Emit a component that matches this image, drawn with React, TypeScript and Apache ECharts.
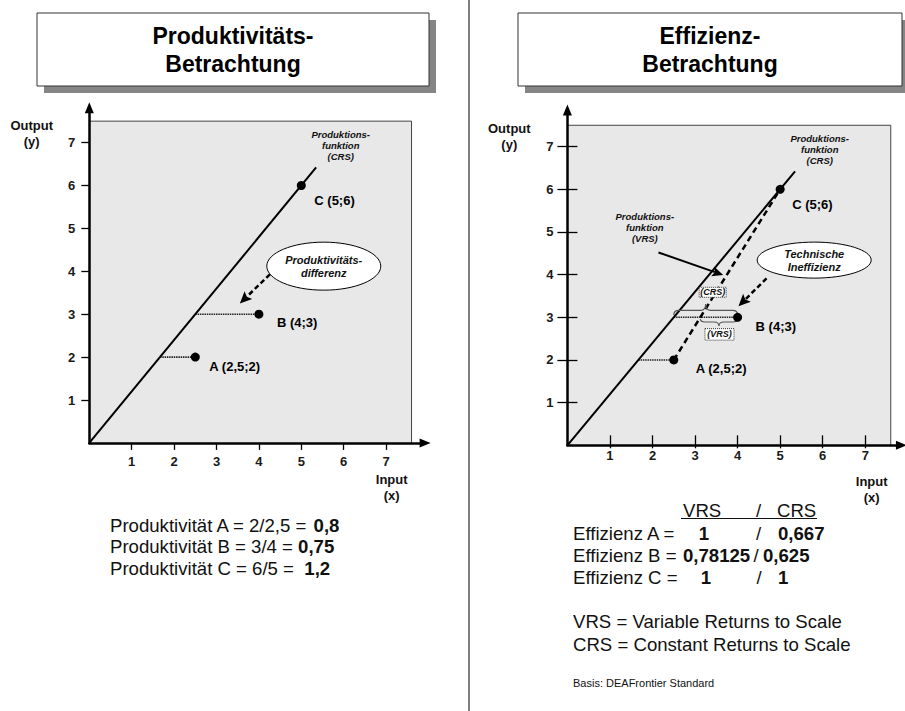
import React, { useEffect, useRef } from 'react';
import * as echarts from 'echarts';

const FONT = '"Liberation Sans", Arial, Helvetica, sans-serif';

// ---------- data ----------
const unitNames = ['A', 'B', 'C'];
const inputValues = [2.5, 4, 5];
const outputValues = [2, 3, 6];
const pointLabels = ['A (2,5;2)', 'B (4;3)', 'C (5;6)'];
const axisTickValues = [1, 2, 3, 4, 5, 6, 7];
const crsFrontierEnd = [5.35, 6.42];
const vrsFrontier = [[2.5, 2], [5, 6]];
const plotAreaMax = [7.6, 7.5];
const productivityFormulas = ['2/2,5 = ', '3/4 = ', '6/5 =  '];
const productivityValues = ['0,8', '0,75', '1,2'];
const efficiencyVRS = ['1', '0,78125', '1'];
const efficiencyCRS = ['0,667', '0,625', '1'];
const frontierLabelCRS = 'Produktions-\nfunktion\n(CRS)';
const frontierLabelVRS = 'Produktions-\nfunktion\n(VRS)';
const ellipseTexts = ['Produktivitäts-\ndifferenz', 'Technische\nIneffizienz'];
const braceTexts = ['(CRS)', '(VRS)'];

// ---------- annotation anchors (data units) ----------
const crsLabelAnchor = [5.93, 6.94];
const vrsLabelAnchor = [1.82, 5.11];
const ellipseAnchors = [[5.53, 4.12], [5.8, 4.34]];
const dashedArrows = [
  [4.26, 3.93, 3.55, 3.25],
  [4.68, 3.91, 4.02, 3.26],
];
const vrsArrow = [2.14, 4.52, 3.66, 3.99];

// ---------- layout ----------
const panels = [
  { left: 89.3, originY: 442.9, ux: 42.4, uy: 42.9, xMax: 7.92, yMax: 7.81 },
  { left: 567.4, originY: 445.3, ux: 42.55, uy: 42.67, xMax: 7.85, yMax: 7.86 },
];
const labelOffsets = [
  [[14, 9], [18, 8], [13, 15]],
  [[22, 9], [18, 9], [12, 15]],
];
const ellipseSizes = [[57, 24], [57, 18]];

const crsSlope = Math.max(...outputValues.map((y, i) => y / inputValues[i]));
const vrsXAt = (y: number) => {
  const [p, q] = vrsFrontier;
  return p[0] + ((y - p[1]) * (q[0] - p[0])) / (q[1] - p[1]);
};

function arrowGroup(api: any, from: number[], to: number[], width: number, headLen: number, headW: number, dash?: number[]) {
  const p1 = api.coord(from);
  const p2 = api.coord(to);
  const dx = p2[0] - p1[0];
  const dy = p2[1] - p1[1];
  const len = Math.hypot(dx, dy);
  const ux = dx / len;
  const uy = dy / len;
  const nx = -uy;
  const ny = ux;
  const hw = headW / 2;
  const bx = p2[0] - ux * headLen;
  const by = p2[1] - uy * headLen;
  const mx = p2[0] - ux * headLen * 0.8;
  const my = p2[1] - uy * headLen * 0.8;
  const lineStyle: any = { stroke: '#000', lineWidth: width, fill: 'none' };
  if (dash) lineStyle.lineDash = dash;
  return {
    type: 'group',
    children: [
      { type: 'line', shape: { x1: p1[0], y1: p1[1], x2: mx, y2: my }, style: lineStyle },
      {
        type: 'polygon',
        shape: { points: [[p2[0], p2[1]], [bx + nx * hw, by + ny * hw], [mx, my], [bx - nx * hw, by - ny * hw]] },
        style: { fill: '#000' },
      },
    ],
  };
}

function panelSeries(g: number) {
  const ax = { xAxisIndex: g, yAxisIndex: g, silent: true };
  const s: any[] = [];
  // plot background
  s.push({
    ...ax,
    type: 'custom',
    z: 1,
    data: [[0, 0, plotAreaMax[0], plotAreaMax[1]]],
    renderItem: (_p: any, api: any) => {
      const p0 = api.coord([api.value(0), api.value(1)]);
      const p1 = api.coord([api.value(2), api.value(3)]);
      return {
        type: 'group',
        children: [
          { type: 'rect', shape: { x: p0[0], y: p1[1], width: p1[0] - p0[0], height: p0[1] - p1[1] }, style: { fill: '#e8e8e8' } },
          {
            type: 'polyline',
            shape: { points: [[p0[0], p1[1]], [p1[0], p1[1]], [p1[0], p0[1]]] },
            style: { stroke: '#444', lineWidth: 1, fill: 'none' },
          },
        ],
      };
    },
  });
  // CRS frontier
  s.push({
    ...ax,
    type: 'line',
    z: 3,
    symbol: 'none',
    data: [[0, 0], crsFrontierEnd],
    lineStyle: { color: '#000', width: 2 },
  });
  // projection lines to CRS frontier
  s.push({
    ...ax,
    type: 'custom',
    z: 3,
    data: [0, 1].map((i) => [outputValues[i] / crsSlope, outputValues[i], inputValues[i]]),
    renderItem: (_p: any, api: any) => {
      const a = api.coord([api.value(0), api.value(1)]);
      const b = api.coord([api.value(2), api.value(1)]);
      return {
        type: 'line',
        shape: { x1: a[0], y1: a[1], x2: b[0], y2: b[1] },
        style: { stroke: '#222', lineWidth: 1.6, lineDash: [1.5, 0.8] },
      };
    },
  });
  if (g === 1) {
    // VRS frontier
    s.push({
      ...ax,
      type: 'line',
      z: 3,
      symbol: 'none',
      data: vrsFrontier,
      lineStyle: { color: '#000', width: 2.5, type: [6, 4] },
    });
    // braces
    s.push({
      ...ax,
      type: 'custom',
      z: 4,
      data: [
        [outputValues[1] / crsSlope, outputValues[1], inputValues[1], -1],
        [vrsXAt(outputValues[1]), outputValues[1], inputValues[1], 1],
      ],
      renderItem: (params: any, api: any) => {
        const a = api.coord([api.value(0), api.value(1)]);
        const b = api.coord([api.value(2), api.value(1)]);
        const dir = api.value(3);
        const y0 = a[1] + dir * (dir < 0 ? 2.3 : 1.8);
        const h = dir < 0 ? 11 : 7;
        const x1 = a[0];
        const x2 = b[0];
        const xm = (x1 + x2) / 2;
        const r = Math.min(5, (x2 - x1) / 5);
        const ym = y0 + (dir * h) / 2.4;
        const yt = y0 + dir * h;
        const d = `M${x1} ${y0} Q${x1} ${ym} ${x1 + r} ${ym} L${xm - r} ${ym} Q${xm} ${ym} ${xm} ${yt} Q${xm} ${ym} ${xm + r} ${ym} L${x2 - r} ${ym} Q${x2} ${ym} ${x2} ${y0}`;
        const bw = dir < 0 ? 27 : 29;
        const bh = dir < 0 ? 10 : 11.5;
        const cx = xm + (dir < 0 ? 7 : 0.5);
        const cy = dir < 0 ? yt - 11.7 : yt + 8.3;
        return {
          type: 'group',
          children: [
            { type: 'path', shape: { pathData: d }, style: { stroke: '#555', lineWidth: 1.2, fill: 'none' } },
            {
              type: 'rect',
              shape: { x: cx - bw / 2, y: cy - bh / 2, width: bw, height: bh },
              style: { fill: '#fff', stroke: '#000', lineWidth: 0.8, lineDash: [1, 1] },
            },
            {
              type: 'text',
              style: {
                text: braceTexts[params.dataIndex],
                x: cx,
                y: cy,
                align: 'center',
                verticalAlign: 'middle',
                font: `italic bold 9px ${FONT}`,
                fill: '#111',
              },
            },
          ],
        };
      },
    });
    // VRS label + arrow
    s.push({
      ...ax,
      type: 'custom',
      z: 5,
      data: [vrsArrow],
      renderItem: (_p: any, api: any) =>
        arrowGroup(api, [api.value(0), api.value(1)], [api.value(2), api.value(3)], 2, 11, 10),
    });
    s.push({
      ...ax,
      type: 'custom',
      z: 5,
      data: [vrsLabelAnchor],
      renderItem: (_p: any, api: any) => {
        const c = api.coord([api.value(0), api.value(1)]);
        return {
          type: 'text',
          style: {
            text: frontierLabelVRS,
            x: c[0],
            y: c[1],
            align: 'center',
            verticalAlign: 'middle',
            font: `italic bold 9.5px ${FONT}`,
            lineHeight: 11,
            fill: '#111',
          },
        };
      },
    });
  }
  // ellipse
  s.push({
    ...ax,
    type: 'custom',
    z: 5,
    data: [ellipseAnchors[g]],
    renderItem: (_p: any, api: any) => {
      const c = api.coord([api.value(0), api.value(1)]);
      return {
        type: 'group',
        children: [
          {
            type: 'ellipse',
            shape: { cx: c[0], cy: c[1], rx: ellipseSizes[g][0], ry: ellipseSizes[g][1] },
            style: { fill: '#fff', stroke: '#000', lineWidth: 1 },
          },
          {
            type: 'text',
            style: {
              text: ellipseTexts[g],
              x: c[0],
              y: c[1],
              align: 'center',
              verticalAlign: 'middle',
              font: `italic bold 11px ${FONT}`,
              lineHeight: 13,
              fill: '#111',
            },
          },
        ],
      };
    },
  });
  // dashed arrow
  s.push({
    ...ax,
    type: 'custom',
    z: 5,
    data: [dashedArrows[g]],
    renderItem: (_p: any, api: any) =>
      arrowGroup(api, [api.value(0), api.value(1)], [api.value(2), api.value(3)], 2.5, 12, 11, [5, 3]),
  });
  // CRS frontier label
  s.push({
    ...ax,
    type: 'custom',
    z: 5,
    data: [crsLabelAnchor],
    renderItem: (_p: any, api: any) => {
      const c = api.coord([api.value(0), api.value(1)]);
      return {
        type: 'text',
        style: {
          text: frontierLabelCRS,
          x: c[0],
          y: c[1],
          align: 'center',
          verticalAlign: 'middle',
          font: `italic bold 9.5px ${FONT}`,
          lineHeight: 11,
          fill: '#111',
        },
      };
    },
  });
  // points
  s.push({
    ...ax,
    type: 'scatter',
    z: 6,
    symbol: 'circle',
    symbolSize: 9,
    itemStyle: { color: '#000', opacity: 1 },
    data: inputValues.map((x, i) => ({
      name: unitNames[i],
      value: [x, outputValues[i]],
      label: {
        show: true,
        formatter: pointLabels[i],
        position: 'right',
        distance: 0,
        offset: [labelOffsets[g][i][0] - 4.5, labelOffsets[g][i][1]],
        fontFamily: FONT,
        fontWeight: 'bold',
        fontSize: 13,
        color: '#000',
        opacity: 1,
      },
    })),
  });
  return s;
}

function makeXAxis(g: number, gridIndex: number, opts: any) {
  const p = panels[g];
  return {
    gridIndex,
    type: 'value',
    position: 'bottom',
    min: 0,
    max: p.xMax,
    z: 10,
    splitLine: { show: false },
    ...opts,
  };
}

function makeYAxis(g: number, gridIndex: number, opts: any) {
  const p = panels[g];
  return {
    gridIndex,
    type: 'value',
    position: 'left',
    min: 0,
    max: p.yMax,
    z: 10,
    splitLine: { show: false },
    ...opts,
  };
}

const axisLineStyle = {
  show: true,
  onZero: false,
  symbol: ['none', 'triangle'],
  symbolSize: [9, 11],
  lineStyle: { color: '#000', width: 2.5 },
};
const tickLabel = (margin: number) => ({
  show: true,
  customValues: axisTickValues,
  margin,
  color: '#1a1a1a',
  fontFamily: FONT,
  fontWeight: 'bold',
  fontSize: 13,
});

function buildOption() {
  const grid = panels.map((p) => ({
    left: p.left,
    top: p.originY - p.yMax * p.uy,
    width: p.xMax * p.ux,
    height: p.yMax * p.uy,
    containLabel: false,
  }));
  const xAxis = [
    makeXAxis(0, 0, {
      axisLine: axisLineStyle,
      axisTick: { show: true, customValues: axisTickValues, length: 7, lineStyle: { color: '#000', width: 1.3 } },
      axisLabel: tickLabel(12),
    }),
    makeXAxis(1, 1, {
      axisLine: axisLineStyle,
      axisTick: { show: true, customValues: axisTickValues, length: 3, lineStyle: { color: '#000', width: 1.3 } },
      axisLabel: tickLabel(4),
    }),
    makeXAxis(1, 1, {
      axisLine: { show: false },
      axisTick: { show: true, inside: true, customValues: axisTickValues, length: 10, lineStyle: { color: '#000', width: 1.3 } },
      axisLabel: { show: false },
    }),
  ];
  const yAxis = [
    makeYAxis(0, 0, {
      axisLine: axisLineStyle,
      axisTick: { show: true, customValues: axisTickValues, length: 8, lineStyle: { color: '#000', width: 1.3 } },
      axisLabel: tickLabel(14),
    }),
    makeYAxis(1, 1, {
      axisLine: axisLineStyle,
      axisTick: { show: true, customValues: axisTickValues, length: 10, lineStyle: { color: '#000', width: 1.3 } },
      axisLabel: tickLabel(14),
    }),
    makeYAxis(1, 1, {
      axisLine: { show: false },
      axisTick: { show: true, inside: true, customValues: axisTickValues, length: 10, lineStyle: { color: '#000', width: 1.3 } },
      axisLabel: { show: false },
    }),
  ];

  const txt = (text: string, x: number, y: number, font: string, align = 'left', extra: any = {}) => ({
    type: 'text',
    silent: true,
    style: { text, x, y, align, verticalAlign: 'middle', font, fill: '#111', ...extra },
  });
  const titleBox = (x: number, y: number, w: number, h: number, text: string) => [
    { type: 'rect', silent: true, shape: { x: x + 7, y: y + 7, width: w, height: h }, style: { fill: '#858585' } },
    { type: 'rect', silent: true, shape: { x, y, width: w, height: h }, style: { fill: '#fff', stroke: '#333', lineWidth: 1 } },
    txt(text, x + w / 2, y + h / 2, `bold 23px ${FONT}`, 'center', { lineHeight: 28, fill: '#000' }),
  ];
  const body = `18.6px ${FONT}`;
  const bold = `bold 18.6px ${FONT}`;
  const axisName = `bold 13px ${FONT}`;
  const leftRows = [525, 546.7, 568.3];
  const rightRows = [533.3, 555, 577.3];

  const graphic: any[] = [
    { type: 'line', silent: true, shape: { x1: 469, y1: 0, x2: 469, y2: 711 }, style: { stroke: '#808080', lineWidth: 2 } },
    ...titleBox(37, 13, 392, 73, 'Produktivitäts-\nBetrachtung'),
    ...titleBox(518, 13, 384, 73, 'Effizienz-\nBetrachtung'),
    txt('Output\n(y)', 31.7, 133.3, axisName, 'center', { lineHeight: 16.5 }),
    txt('Input\n(x)', 391.7, 487, axisName, 'center', { lineHeight: 16 }),
    txt('Output\n(y)', 509.3, 136.7, axisName, 'center', { lineHeight: 16.5 }),
    txt('Input\n(x)', 871.7, 489.5, axisName, 'center', { lineHeight: 16 }),
    // left bottom
    ...unitNames.map((n, i) => ({
      type: 'text',
      silent: true,
      style: {
        text: `{r|Produktivität ${n} = ${productivityFormulas[i]}}{b|${productivityValues[i]}}`,
        x: 110,
        y: leftRows[i],
        verticalAlign: 'middle',
        rich: {
          r: { font: body, fill: '#111' },
          b: { font: bold, fill: '#111' },
        },
      },
    })),
    // right table header
    txt('VRS', 683, 510.7, body),
    txt('/', 758.7, 510.7, body, 'center'),
    txt('CRS', 777, 510.7, body),
    { type: 'line', silent: true, shape: { x1: 681, y1: 518.5, x2: 817, y2: 518.5 }, style: { stroke: '#111', lineWidth: 1.2 } },
    ...unitNames.map((n, i) => txt(`Effizienz ${n} =`, 573, rightRows[i], body)),
    txt(efficiencyVRS[0], 704, rightRows[0], bold, 'center'),
    txt(efficiencyVRS[1], 683, rightRows[1], bold),
    txt(efficiencyVRS[2], 706, rightRows[2], bold, 'center'),
    txt('/', 758.7, rightRows[0], body, 'center'),
    txt('/', 756, rightRows[1], body, 'center'),
    txt('/', 759, rightRows[2], body, 'center'),
    txt(efficiencyCRS[0], 778, rightRows[0], bold),
    txt(efficiencyCRS[1], 763, rightRows[1], bold),
    txt(efficiencyCRS[2], 778, rightRows[2], bold),
    txt('VRS = Variable Returns to Scale', 573, 621.7, body),
    txt('CRS = Constant Returns to Scale', 573, 644, body),
    txt('Basis: DEAFrontier Standard', 573, 683.3, `11px ${FONT}`),
  ];

  return {
    animation: false,
    backgroundColor: '#ffffff',
    grid,
    xAxis,
    yAxis,
    series: [...panelSeries(0), ...panelSeries(1)],
    graphic,
  };
}

export default function App() {
  const ref = useRef<HTMLDivElement>(null);
  useEffect(() => {
    if (!ref.current) return;
    const chart = echarts.init(ref.current, undefined, { renderer: 'svg' });
    chart.setOption(buildOption() as any);
    return () => chart.dispose();
  }, []);
  return (
    <div
      ref={ref}
      style={{ position: 'absolute', left: 0, top: 0, width: 905, height: 711, background: '#fff' }}
    />
  );
}
